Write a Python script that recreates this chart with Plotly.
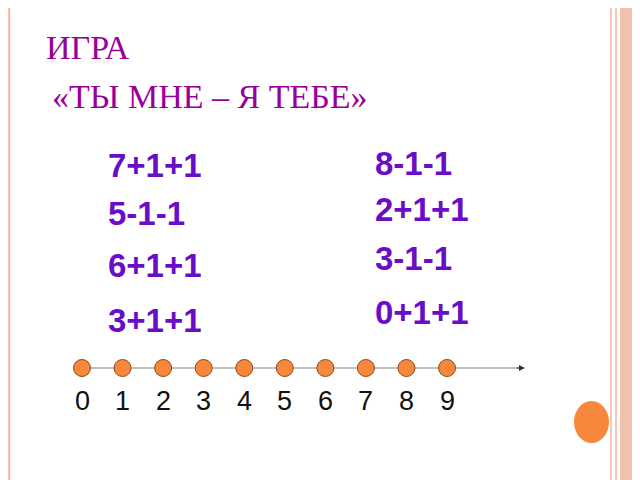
import plotly.graph_objects as go

# number line data
points = [0, 1, 2, 3, 4, 5, 6, 7, 8, 9]
tick_labels = ["0", "1", "2", "3", "4", "5", "6", "7", "8", "9"]
left_exprs = ["7+1+1", "5-1-1", "6+1+1", "3+1+1"]
right_exprs = ["8-1-1", "2+1+1", "3-1-1", "0+1+1"]

# page body has an 8px margin, so shift everything back by 8
OFF = 8
PX = 40.56
X0 = 82 - OFF
def px(u):
    return (u - OFF - X0) / PX
def py(v):
    return v - OFF
def pxp(u):
    return (u - OFF) / 640
def pyp(v):
    return 1 - (v - OFF) / 480

fig = go.Figure()
fig.add_trace(go.Scatter(
    x=points, y=[py(368)] * len(points), mode="markers",
    marker=dict(size=17, color="#F7873A", line=dict(color="#8a4a20", width=1)),
    hoverinfo="skip", showlegend=False,
))

shapes = [
    dict(type="rect", xref="paper", yref="paper", x0=pxp(620), x1=1, y0=0, y1=1,
         fillcolor="#F2C1AE", line_width=0, layer="below"),
    dict(type="line", xref="paper", yref="paper", x0=pxp(611), x1=pxp(611), y0=0, y1=1,
         line=dict(color="#F4B39C", width=1.5)),
    dict(type="line", xref="paper", yref="paper", x0=pxp(616), x1=pxp(616), y0=0, y1=1,
         line=dict(color="#F4B39C", width=1.5)),
    dict(type="line", xref="paper", yref="paper", x0=0.002, x1=0.002, y0=0, y1=1,
         line=dict(color="#F4B39C", width=2)),
    dict(type="circle", xref="paper", yref="paper", x0=pxp(574), x1=pxp(609),
         y0=pyp(443), y1=pyp(401), fillcolor="#F7873A", line_width=0),
    dict(type="line", x0=points[0], x1=px(522), y0=py(368), y1=py(368),
         line=dict(color="#808080", width=1.2), layer="below"),
]

annotations = [
    dict(x=px(525), y=py(368), ax=px(515), ay=py(368), axref="x", ayref="y",
         showarrow=True, arrowhead=2, arrowsize=1, arrowwidth=1.2,
         arrowcolor="#333", text=""),
    dict(x=px(44), y=py(47), text="ИГРА", xanchor="left", showarrow=False,
         font=dict(family="Liberation Serif", size=34, color="#990099")),
    dict(x=px(50), y=py(96), text="«ТЫ МНЕ – Я ТЕБЕ»", xanchor="left", showarrow=False,
         font=dict(family="Liberation Serif", size=34, color="#990099")),
]
for p, t in zip(points, tick_labels):
    annotations.append(dict(x=p, y=py(401), text=t, showarrow=False,
                            font=dict(family="Liberation Sans", size=27, color="#111")))
for t, y in zip(left_exprs, [165, 213, 265, 320]):
    annotations.append(dict(x=px(106), y=py(y), text="<b>%s</b>" % t, xanchor="left",
                            showarrow=False,
                            font=dict(family="Liberation Sans", size=33, color="#6A0DC8")))
for t, y in zip(right_exprs, [163, 209, 258, 312]):
    annotations.append(dict(x=px(373), y=py(y), text="<b>%s</b>" % t, xanchor="left",
                            showarrow=False,
                            font=dict(family="Liberation Sans", size=33, color="#6A0DC8")))

fig.update_layout(
    width=640, height=480, margin=dict(l=0, r=0, t=0, b=0),
    paper_bgcolor="white", plot_bgcolor="white",
    xaxis=dict(range=[px(OFF), px(640 + OFF)], visible=False, fixedrange=True),
    yaxis=dict(range=[480, 0], visible=False, fixedrange=True),
    shapes=shapes, annotations=annotations,
)
fig.write_html("out.html")
